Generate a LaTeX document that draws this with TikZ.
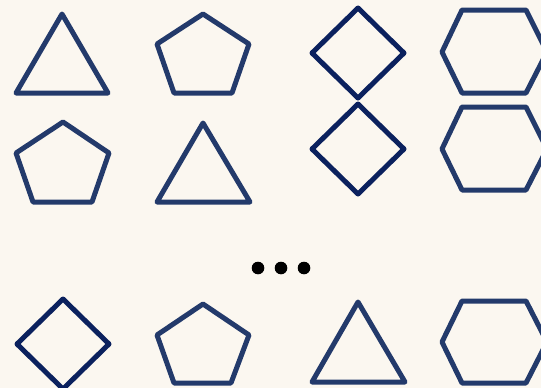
\documentclass[tikz,border=0pt]{standalone}
\begin{document}
\begin{tikzpicture}[x=1pt,y=-1pt,
  shp/.style={draw=shapeblue,line width=5pt,line join=round},
  dia/.style={draw=diablue,line width=5pt,line join=round},
  dot/.style={fill=black}]
\definecolor{shapeblue}{HTML}{233A6B}
\definecolor{diablue}{HTML}{0B215E}
\definecolor{bg}{HTML}{FBF7F0}
\fill[bg] (0,0) rectangle (541,388);
\useasboundingbox (0,0) rectangle (541,388);
\begin{scope}
\clip (0,0) rectangle (541,388);
% row 1
\draw[shp] (62,14) -- (108,93) -- (16,93) -- cycle;
\draw[shp] (203,14) -- (249,44) -- (232,93) -- (174,93) -- (157,44) -- cycle;
\draw[dia] (358,8) -- (404,53) -- (358,98) -- (312,53) -- cycle;
\draw[shp] (462,10) -- (526,10) -- (547,52) -- (526,93) -- (462,93) -- (442,52) -- cycle;
% row 2
\draw[shp] (63,122) -- (109,153) -- (92,202) -- (33,202) -- (16,153) -- cycle;
\draw[shp] (203,123) -- (250,202) -- (157,202) -- cycle;
\draw[dia] (358,104) -- (404,149) -- (358,194) -- (312,149) -- cycle;
\draw[shp] (462,107) -- (526,107) -- (547,149) -- (526,190) -- (462,190) -- (442,149) -- cycle;
% dots
\fill[dot] (258,268) circle (6.3);
\fill[dot] (281,268) circle (6.3);
\fill[dot] (304,268) circle (6.3);
% row 3
\draw[dia] (63,299) -- (109,344) -- (63,389) -- (17,344) -- cycle;
\draw[shp] (203,304) -- (249,335) -- (231,383) -- (174,383) -- (157,335) -- cycle;
\draw[shp] (358,302) -- (405,382) -- (312,382) -- cycle;
\draw[shp] (462,301) -- (526,301) -- (547,342) -- (526,383) -- (462,383) -- (442,342) -- cycle;
\end{scope}
\end{tikzpicture}
\end{document}
